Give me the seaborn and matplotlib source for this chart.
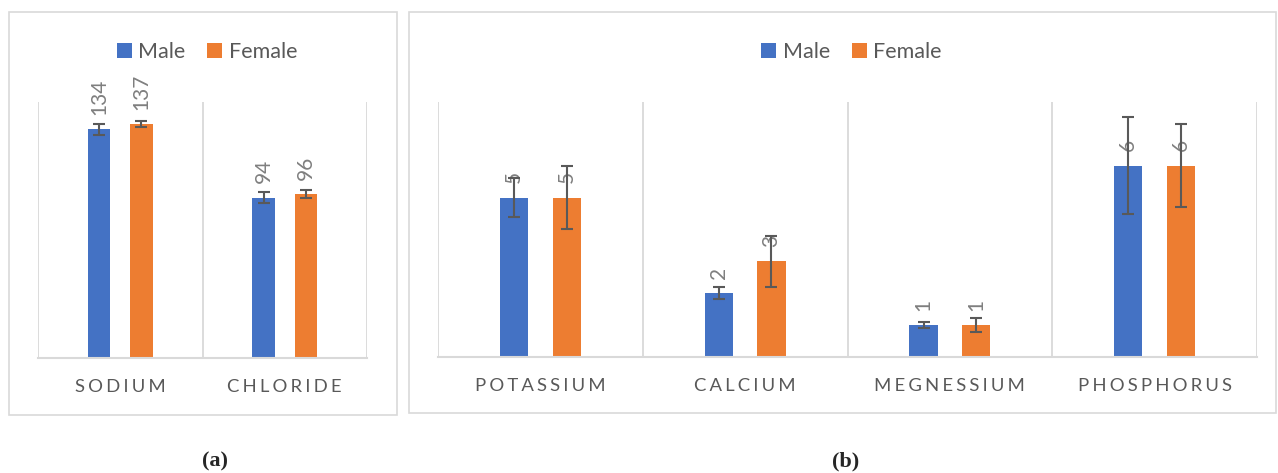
import numpy as np
import pandas as pd
import matplotlib
matplotlib.use("Agg")
import matplotlib.pyplot as plt
import seaborn as sns
from matplotlib.patches import Rectangle

# ---------------- data ----------------
groups = ["Male", "Female"]

cats_a = ["SODIUM", "CHLORIDE"]
male_a = [134, 94]
female_a = [137, 96]
male_a_err = [3.2, 3.2]
female_a_err = [1.8, 2.3]

cats_b = ["POTASSIUM", "CALCIUM", "MEGNESSIUM", "PHOSPHORUS"]
male_b = [5.0, 2.0, 1.0, 6.0]
female_b = [5.0, 3.0, 1.0, 6.0]
male_b_err = [0.6, 0.19, 0.09, 1.52]
female_b_err = [1.0, 0.8, 0.22, 1.3]

BLUE = "#4472C4"
ORANGE = "#ED7D31"
GRID = "#D9D9D9"
TXT = "#595959"
LBL = "#7F7F7F"

sns.set_style("white")
plt.rcParams["font.family"] = ["Lato", "DejaVu Sans"]

W, H = 1278, 473
fig = plt.figure(figsize=(W / 100, H / 100), dpi=100)

SP = "\u2006"


def panel(ax, cats, male, female, merr, ferr, ymax, leg_x):
    n = len(cats)
    df = pd.DataFrame({
        "cat": cats * 2,
        "sex": ["Male"] * n + ["Female"] * n,
        "val": male + female,
    })
    sns.barplot(data=df, x="cat", y="val", hue="sex", order=cats,
                hue_order=groups, palette=[BLUE, ORANGE], saturation=1,
                width=0.515, gap=0.465, linewidth=0, errorbar=None, ax=ax)
    for cont, errs, vals in zip(ax.containers, [merr, ferr], [male, female]):
        xs = [b.get_x() + b.get_width() / 2 for b in cont]
        ys = [b.get_height() for b in cont]
        ax.errorbar(xs, ys, yerr=errs, fmt="none", ecolor=TXT,
                    elinewidth=1.5, capsize=4.5, capthick=1.5, zorder=5)
        ax.bar_label(cont, labels=[f"{v:.0f}" for v in vals], rotation=90,
                     padding=10.5, color=LBL, fontsize=15)
    ax.set_ylim(0, ymax)
    ax.set_xlim(-0.5, n - 0.5)
    ax.set_yticks([])
    ax.set_xlabel("")
    ax.set_ylabel("")
    ax.set_xticks(ax.get_xticks(), [SP.join(c) for c in cats])
    ax.set_xticks(np.arange(-0.5, n), minor=True)
    ax.grid(False)
    ax.grid(which="minor", axis="x", color=GRID, lw=1.3)
    ax.tick_params(which="both", length=0)
    ax.tick_params(axis="x", which="major", pad=15, labelsize=13.3,
                   labelcolor=TXT)
    for s in ["top", "left", "right"]:
        ax.spines[s].set_visible(False)
    ax.spines["bottom"].set_color(GRID)
    ax.spines["bottom"].set_linewidth(1.5)
    ax.set_facecolor("none")
    sns.move_legend(ax, "center", bbox_to_anchor=(leg_x, 1.195), ncol=2,
                    frameon=False, title=None, fontsize=15.5,
                    handlelength=0.7, handleheight=0.7, handletextpad=0.3,
                    columnspacing=1.0, labelcolor=TXT)


ax_a = fig.add_axes([38 / W, 115 / H, 329 / W, 256 / H])
ax_b = fig.add_axes([438 / W, 116 / H, 819 / W, 255 / H])

panel(ax_a, cats_a, male_a, female_a, male_a_err, female_a_err, 150, 0.514)
panel(ax_b, cats_b, male_b, female_b, male_b_err, female_b_err, 8, 0.505)

# outer chart borders
fig.add_artist(Rectangle((8.5 / W, (H - 415) / H), 388 / W, 403 / H,
                         transform=fig.transFigure, fill=False,
                         ec=GRID, lw=1.2))
fig.add_artist(Rectangle((409 / W, (H - 413) / H), 867 / W, 401 / H,
                         transform=fig.transFigure, fill=False,
                         ec=GRID, lw=1.2))

fig.text(215 / W, 1 - 461 / H, "(a)", ha="center", va="center",
         family="Liberation Serif", fontweight="bold", fontsize=16)
fig.text(846 / W, 1 - 461 / H, "(b)", ha="center", va="center",
         family="Liberation Serif", fontweight="bold", fontsize=16)

fig.savefig("out.png", dpi=100, facecolor="white")
